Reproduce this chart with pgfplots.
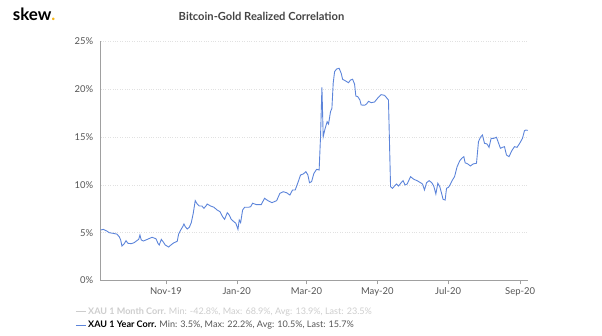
\documentclass[border=0pt]{standalone}
\usepackage{pgfplots}
\pgfplotsset{compat=1.18}
\usepackage{fontspec}
\setmainfont{Lato}
\definecolor{lineblue}{RGB}{92,132,218}
\definecolor{axisgray}{RGB}{160,160,160}
\definecolor{labgray}{RGB}{85,85,85}
\definecolor{gridgray}{RGB}{225,225,225}
\definecolor{faint}{RGB}{205,205,205}
\definecolor{skewdot}{RGB}{245,180,20}
\begin{document}
\begin{tikzpicture}
\path[use as bounding box] (-100.7bp,-55.5bp) rectangle (501.3bp,280.5bp);
\begin{axis}[
  at={(0,0)}, anchor=south west,
  scale only axis, width=427bp, height=239bp,
  xmin=-56.2, xmax=311.5, ymin=0, ymax=25,
  axis x line*=bottom, axis y line*=left,
  axis line style={draw=axisgray, line width=0.6pt},
  xtick={0,61,121,182,243,305},
  xticklabels={Nov-19,Jan-20,Mar-20,May-20,Jul-20,Sep-20},
  ytick={0,5,10,15,20,25},
  yticklabels={0\%,5\%,10\%,15\%,20\%,25\%},
  xtick style={draw=axisgray, line width=0.6pt},
  ytick style={draw=none},
  tick align=outside,
  major tick length=4bp,
  ymajorgrids, grid style={gridgray, dotted, line width=0.7pt},
  tick label style={font=\fontsize{9.5}{11}\selectfont, text=labgray},
  /pgf/number format/assume math mode=true,
  legend style={draw=none, fill=none, at={(-0.062,-0.10)}, anchor=north west,
    font=\fontsize{9.1}{10.5}\selectfont, row sep=1.5pt, inner sep=1pt},
  legend cell align=left,
  legend image code/.code={\draw[#1] (0cm,0cm) -- (0.35cm,0cm);},
  clip=false,
]
\addlegendimage{line width=0.8pt, color=faint}
\addlegendentry{\textcolor{faint}{\textbf{XAU 1 Month Corr.} Min: -42.8\%, Max: 68.9\%, Avg: 13.9\%, Last: 23.5\%}}
\addplot[lineblue, line width=0.9pt] coordinates {
(-56.2,5.28) (-54.0,5.35) (-51.0,5.18) (-48.8,5.0) (-45.4,4.93) (-42.4,4.86)
(-40.2,4.58) (-39.0,4.24) (-37.9,3.6) (-36.1,3.82) (-34.4,4.16) (-32.7,3.89)
(-29.9,3.85) (-27.5,3.95) (-25.2,4.16) (-23.5,4.3) (-22.4,4.76) (-21.3,4.24)
(-19.5,4.13) (-16.1,4.3) (-12.0,4.52) (-8.6,4.37) (-6.9,3.89) (-5.8,3.71)
(-4.0,4.3) (-2.3,4.03) (-0.6,3.71) (2.3,3.5) (4.6,3.75) (6.9,3.95)
(9.7,4.1) (10.9,4.86) (12.7,5.28) (14.4,5.63) (15.5,5.91) (16.6,5.63)
(18.3,5.39) (20.1,5.56) (21.8,6.05) (23.5,7.03) (25.2,8.35) (26.9,8.0)
(28.7,7.79) (31.0,7.79) (32.7,7.55) (34.4,7.79) (35.5,8.0) (38.5,7.79)
(41.3,7.66) (44.1,7.37) (46.5,7.2) (48.8,6.67) (50.5,6.4) (52.8,7.09)
(54.5,6.85) (56.2,6.4) (58.5,6.15) (60.2,5.98) (62.0,5.35) (63.1,6.33)
(64.3,6.05) (66.0,7.37) (67.7,7.66) (71.2,7.66) (72.9,7.72) (74.6,8.08)
(78.1,7.93) (82.0,7.93) (84.9,8.6) (87.8,8.35) (91.2,8.14) (95.3,8.35)
(98.1,9.12) (100.9,9.29) (103.9,9.18) (106.7,8.94) (109.0,9.47) (111.3,9.47)
(113.6,10.23) (115.9,11.04) (118.2,11.14) (120.5,11.38) (122.2,11.04) (123.6,10.23)
(125.4,10.34) (127.4,11.21) (129.7,11.63) (131.9,11.56) (133.1,15.04) (134.3,20.2)
(135.4,15.04) (137.1,15.92) (138.8,16.61) (140.0,16.37) (141.7,17.66) (142.9,18.01)
(144.0,20.63) (145.2,21.84) (146.9,22.12) (149.1,22.2) (150.9,21.67) (152.1,21.05)
(154.3,20.9) (157.2,20.69) (158.9,20.97) (160.7,21.05) (162.4,20.55) (163.5,19.3)
(165.2,19.23) (167.0,18.88) (168.1,18.36) (171.0,18.33) (172.7,18.46) (174.4,18.74)
(176.7,18.6) (179.6,18.67) (182.4,19.09) (185.3,19.44) (188.2,19.37) (190.4,19.06)
(191.6,18.88) (193.4,9.81) (195.1,9.64) (196.8,9.88) (198.5,10.09) (200.3,9.88)
(202.5,10.23) (204.2,10.44) (205.9,9.99) (207.7,10.09) (210.6,10.86) (213.4,10.59)
(216.3,10.44) (219.2,10.23) (220.9,10.09) (222.6,9.47) (224.4,10.23) (226.6,10.44)
(228.9,10.23) (230.6,9.88) (232.4,9.05) (234.1,10.17) (235.8,9.81) (237.5,9.05)
(238.6,8.49) (240.4,8.42) (241.6,9.64) (243.3,9.75) (245.0,10.09) (246.7,10.51)
(248.5,10.86) (250.7,11.9) (253.0,12.53) (254.7,12.78) (256.5,12.95) (257.6,12.32)
(259.9,12.19) (262.2,11.98) (264.5,12.19) (267.4,12.26) (269.1,14.52) (270.8,14.98)
(272.5,15.22) (274.3,14.35) (276.5,14.28) (278.2,13.93) (280.0,14.87) (282.3,14.87)
(284.6,14.98) (286.3,14.41) (288.0,13.83) (289.8,13.93) (291.5,14.0) (293.2,13.13)
(295.4,12.95) (297.8,13.58) (300.1,14.0) (302.3,13.93) (304.6,14.35) (307.0,14.87)
(308.7,15.67) (309.8,15.74) (311.5,15.7)
};
\addlegendentry{\textcolor{black}{\textbf{XAU 1 Year Corr.}} \textcolor{labgray}{Min: 3.5\%, Max: 22.2\%, Avg: 10.5\%, Last: 15.7\%}}
\end{axis}
\node[anchor=center, text=labgray!80!black, font=\bfseries\fontsize{11.2}{13}\selectfont] at (160.8bp,264.5bp) {Bitcoin-Gold Realized Correlation};
\node[anchor=base west, inner sep=0pt, font=\bfseries\fontsize{17}{19}\selectfont] at (-88bp,259.5bp) {skew\textcolor{skewdot}{.}};
\end{tikzpicture}
\end{document}
